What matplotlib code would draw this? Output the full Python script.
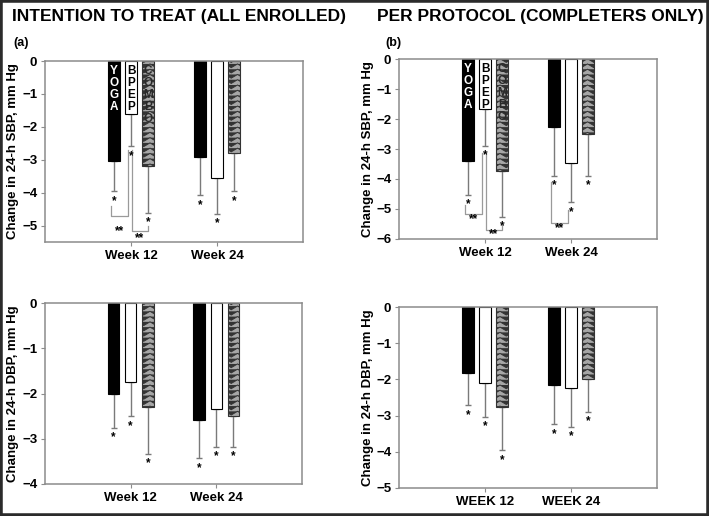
import warnings
import numpy as np
import matplotlib
matplotlib.use("Agg")
import matplotlib.pyplot as plt
import matplotlib.hatch as mhatch
from matplotlib.path import Path
from matplotlib.patches import Rectangle

warnings.filterwarnings("ignore")

# ---- data ----
groups = ["YOGA", "BPEP", "COMBO"]
weeks_title_case = ["Week 12", "Week 24"]
weeks_upper = ["WEEK 12", "WEEK 24"]

# mean change (rows: week 12, week 24; cols: YOGA, BPEP, COMBO)
sbp_itt = [[-3.05, -1.60, -3.19], [-2.92, -3.56, -2.81]]
sbp_itt_low = [[-3.96, -2.59, -4.61], [-4.08, -4.64, -3.96]]
sbp_pp = [[-3.40, -1.68, -3.72], [-2.28, -3.46, -2.50]]
sbp_pp_low = [[-4.53, -2.89, -5.26], [-3.89, -4.78, -3.89]]
dbp_itt = [[-2.01, -1.75, -2.30], [-2.59, -2.34, -2.49]]
dbp_itt_low = [[-2.76, -2.50, -3.33], [-3.43, -3.18, -3.18]]
dbp_pp = [[-1.81, -2.09, -2.75], [-2.15, -2.25, -2.00]]
dbp_pp_low = [[-2.71, -3.03, -3.96], [-3.24, -3.31, -2.89]]

# significance brackets: (week, group a, group b, top a, top b, bracket level, label level)
sbp_itt_pairs = [(0, 0, 1, -4.42, -2.71, -4.70, -5.18),
                 (0, 1, 2, -2.71, -5.00, -5.18, -5.37)]
sbp_pp_pairs = [(0, 0, 1, -4.87, -3.13, -5.17, -5.33),
                (0, 1, 2, -3.13, -5.53, -5.70, -5.83),
                (1, 0, 1, -4.10, -5.03, -5.47, -5.63)]


# chevron hatch for the COMBO bars (triggered by "w")
class ChevronHatch(mhatch.HatchPatternBase):
    def __init__(self, hatch, density):
        self.rows = 19 if "w" in hatch else 0
        self.cols = 8
        self.num_vertices = self.rows * (2 * self.cols + 1)

    def set_vertices_and_codes(self, vertices, codes):
        k = 0
        for r in range(self.rows):
            top = (r + 0.85) / self.rows
            low = (r + 0.15) / self.rows
            xs = np.linspace(0, 1, 2 * self.cols + 1)
            for j, x in enumerate(xs):
                vertices[k] = (x, top if j % 2 == 0 else low)
                codes[k] = Path.MOVETO if j == 0 else Path.LINETO
                k += 1


mhatch._hatch_types.append(ChevronHatch)
plt.rcParams["hatch.linewidth"] = 0.7
plt.rcParams["font.family"] = ["Liberation Sans", "DejaVu Sans"]
plt.rcParams["font.weight"] = "bold"

W, H = 709, 516
fig = plt.figure(figsize=(W / 100, H / 100), dpi=100)

spine_col = "#8c8c8c"
face = ["black", "white", "#a6a6a6"]
edge = ["black", "black", "#333333"]
hatch = [None, None, "w"]
offsets = [-0.2, 0.0, 0.2]
width = 0.135


def panel(rect, means, lows, ylim, yticks, xlabels, ylabel, ylab_x, pairs=None, names=False):
    ax = fig.add_axes([rect[0] / W, 1 - rect[3] / H, (rect[2] - rect[0]) / W, (rect[3] - rect[1]) / H])
    x = np.array([1, 2])
    for g in range(3):
        vals = np.array([means[0][g], means[1][g]])
        low = np.array([lows[0][g], lows[1][g]])
        xs = x + offsets[g]
        ax.bar(xs, vals, width, color=face[g], edgecolor=edge[g], hatch=hatch[g], lw=0.8, zorder=2)
        ax.errorbar(xs, vals, yerr=[vals - low, np.zeros(2)], fmt="none", ecolor="#7a7a7a",
                    elinewidth=1.0, capsize=2.5, capthick=1.0, zorder=1)
        for xi, lo in zip(xs, low):
            ax.annotate("*", (xi, lo), xytext=(0, -7), textcoords="offset points",
                        ha="center", va="center", fontsize=8.5, color="black")
        if names:
            ax.annotate("\n".join(groups[g]), (xs[0], 0), xytext=(0, -3), textcoords="offset points",
                        ha="center", va="top", fontsize=8.5, linespacing=1.0,
                        color=["white", "black", "#2a2a2a"][g], zorder=3)
    for wk, a, b, ta, tb, yb, yl in (pairs or []):
        xa = x[wk] + offsets[a] - 0.03
        xb = x[wk] + offsets[b] + (-0.03 if b == 1 else 0.0)
        if a == 1:
            xa = x[wk] + offsets[a] + 0.01
        ax.plot([xa, xa, xb, xb], [ta, yb, yb, tb], color="#9a9a9a", lw=0.9, zorder=1)
        ax.text((xa + xb) / 2, yl, "**", ha="center", va="center", fontsize=8.5)
    ax.set_xlim(0, 3)
    ax.set_ylim(*ylim)
    ax.set_yticks(yticks)
    ax.set_xticks(x)
    ax.set_xticklabels(xlabels)
    ax.tick_params(direction="out", length=3, width=0.8, color=spine_col, labelsize=9.5, pad=2.5)
    for s in ax.spines.values():
        s.set_color(spine_col)
        s.set_linewidth(1.1)
    ax.set_ylabel(ylabel, fontsize=9.5, fontweight="bold")
    ax.yaxis.set_label_coords(ylab_x, 0.5)
    return ax


panel((45, 61, 303, 242), sbp_itt, sbp_itt_low, (-5.5, 0), range(-5, 1), weeks_title_case,
      "Change in 24-h SBP, mm Hg", -0.1, sbp_itt_pairs, names=True)
panel((399, 59, 657, 239), sbp_pp, sbp_pp_low, (-6, 0), range(-6, 1), weeks_title_case,
      "Change in 24-h SBP, mm Hg", -0.095, sbp_pp_pairs, names=True)
panel((45, 303, 302, 484), dbp_itt, dbp_itt_low, (-4, 0), range(-4, 1), weeks_title_case,
      "Change in 24-h DBP, mm Hg", -0.1)
panel((399, 307, 657, 488), dbp_pp, dbp_pp_low, (-5, 0), range(-5, 1), weeks_upper,
      "Change in 24-h DBP, mm Hg", -0.095)

fig.text(12 / W, 1 - 16.5 / H, "INTENTION TO TREAT (ALL ENROLLED)", ha="left", va="center",
         fontsize=12.5, fontweight="bold")
fig.text(377 / W, 1 - 16.5 / H, "PER PROTOCOL (COMPLETERS ONLY)", ha="left", va="center",
         fontsize=12.5, fontweight="bold")
fig.text(13 / W, 1 - 43 / H, "(a)", ha="left", va="center", fontsize=9, fontweight="bold")
fig.text(385 / W, 1 - 43 / H, "(b)", ha="left", va="center", fontsize=9, fontweight="bold")

fig.patches.append(Rectangle((0, 0), 1, 1, transform=fig.transFigure, fill=False,
                             edgecolor="#2b2b2b", lw=4))

fig.savefig("out.png", dpi=100)
